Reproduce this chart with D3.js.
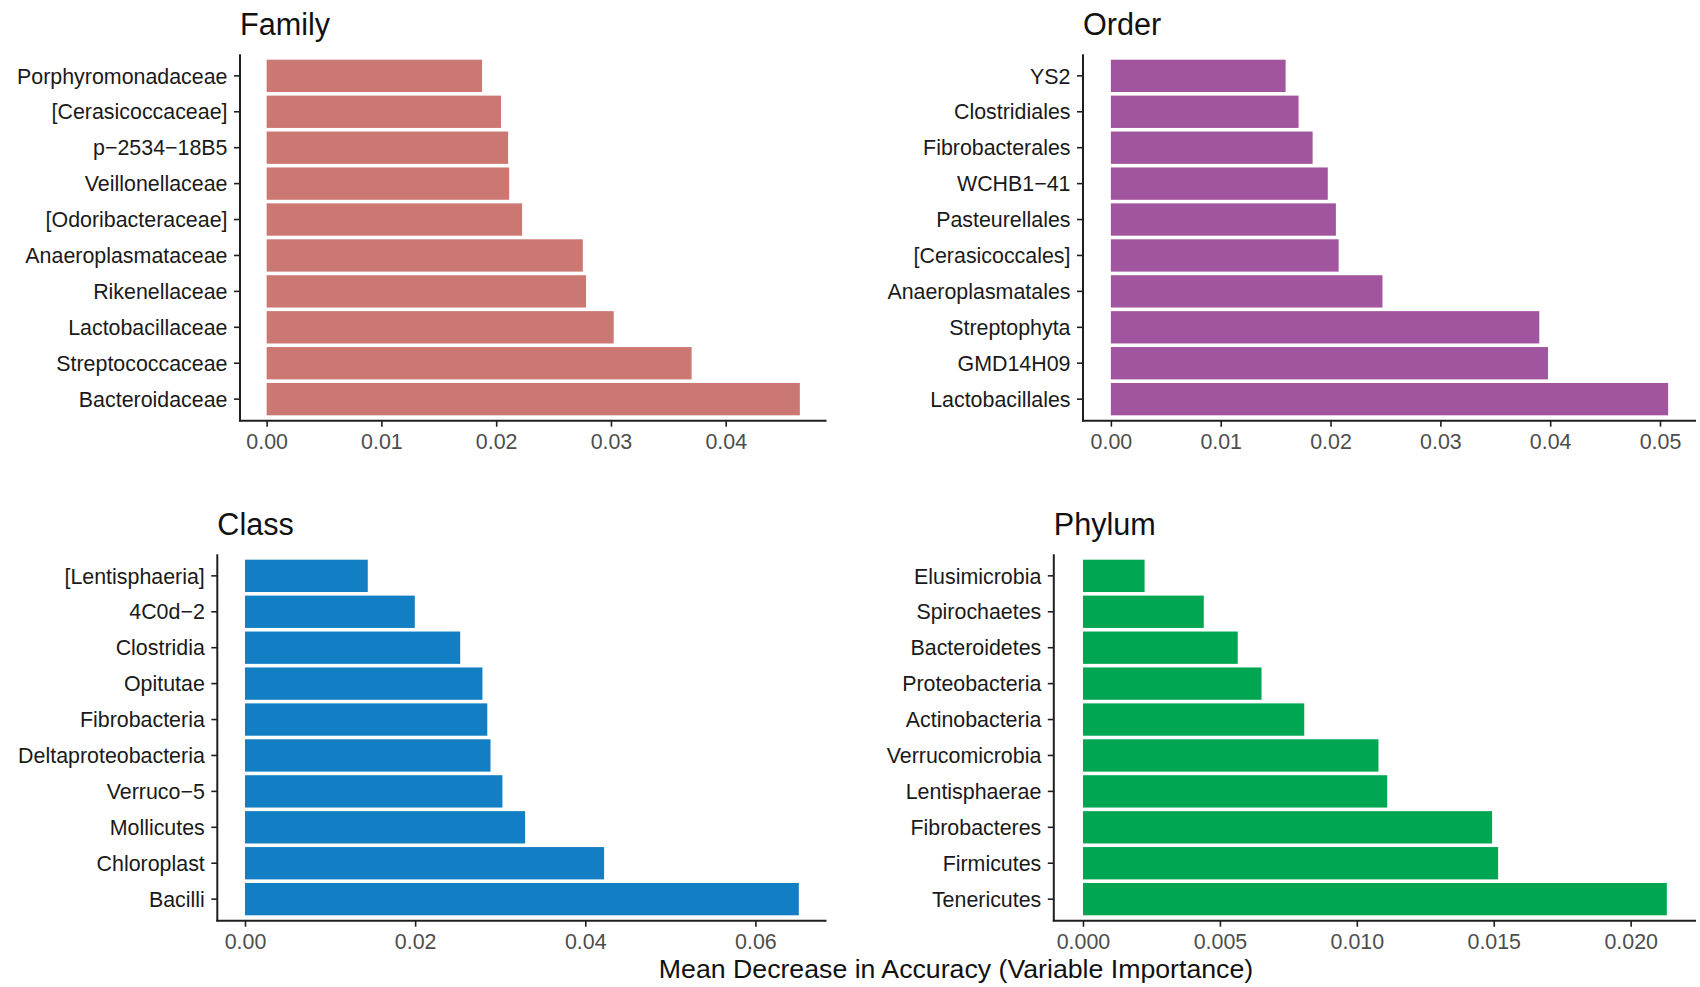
<!DOCTYPE html>
<html>
<head>
<meta charset="utf-8">
<script src="https://cdn.jsdelivr.net/npm/d3@7"></script>
<style>
  html, body { margin: 0; padding: 0; background: #ffffff; }
  svg { display: block; font-family: "Liberation Sans", Arial, Helvetica, sans-serif; }
</style>
</head>
<body>
<svg id="chart" width="1700" height="987"></svg>
<script>
// Random-forest variable importance by taxonomic rank (top 10 per rank)
const familyNames = ["Porphyromonadaceae", "[Cerasicoccaceae]", "p\u22122534\u221218B5", "Veillonellaceae", "[Odoribacteraceae]",
  "Anaeroplasmataceae", "Rikenellaceae", "Lactobacillaceae", "Streptococcaceae", "Bacteroidaceae"];
const familyValues = [0.01877, 0.02042, 0.02104, 0.02113, 0.02226, 0.02755, 0.02783, 0.03024, 0.03703, 0.04646];
const familyTicks = [0, 0.01, 0.02, 0.03, 0.04];

const orderNames = ["YS2", "Clostridiales", "Fibrobacterales", "WCHB1\u221241", "Pasteurellales",
  "[Cerasicoccales]", "Anaeroplasmatales", "Streptophyta", "GMD14H09", "Lactobacillales"];
const orderValues = [0.01591, 0.01709, 0.01837, 0.01975, 0.02049, 0.02074, 0.02473, 0.03901, 0.03980, 0.05074];
const orderTicks = [0, 0.01, 0.02, 0.03, 0.04, 0.05];

const classNames = ["[Lentisphaeria]", "4C0d\u22122", "Clostridia", "Opitutae", "Fibrobacteria",
  "Deltaproteobacteria", "Verruco\u22125", "Mollicutes", "Chloroplast", "Bacilli"];
const classValues = [0.01443, 0.01996, 0.02530, 0.02791, 0.02848, 0.02886, 0.03026, 0.03293, 0.04221, 0.06510];
const classTicks = [0, 0.02, 0.04, 0.06];

const phylumNames = ["Elusimicrobia", "Spirochaetes", "Bacteroidetes", "Proteobacteria", "Actinobacteria",
  "Verrucomicrobia", "Lentisphaerae", "Fibrobacteres", "Firmicutes", "Tenericutes"];
const phylumValues = [0.00225, 0.00441, 0.00565, 0.00652, 0.00808, 0.01079, 0.01111, 0.01494, 0.01516, 0.02132];
const phylumTicks = [0, 0.005, 0.010, 0.015, 0.020];

const xTitle = "Mean Decrease in Accuracy (Variable Importance)";

// Panel frames (plot area of each facet)
const panels = [
  { title: "Family", names: familyNames, values: familyValues, ticks: familyTicks, digits: 2, color: "#CB7873",
    left: 240, right: 826.5, top: 54.3, bottom: 420.7 },
  { title: "Order", names: orderNames, values: orderValues, ticks: orderTicks, digits: 2, color: "#A2559F",
    left: 1083, right: 1696, top: 54.3, bottom: 420.7 },
  { title: "Class", names: classNames, values: classValues, ticks: classTicks, digits: 2, color: "#127EC3",
    left: 217.3, right: 826.5, top: 554.3, bottom: 920.7 },
  { title: "Phylum", names: phylumNames, values: phylumValues, ticks: phylumTicks, digits: 3, color: "#00A651",
    left: 1053.8, right: 1696, top: 554.3, bottom: 920.7 }
];

const svg = d3.select("#chart");
const axisColor = "#1f1f1f";
const tickLen = 6;
const tickFont = 21.4;

panels.forEach(p => {
  const maxV = d3.max(p.values);
  const x = d3.scaleLinear()
    .domain([-0.05 * maxV, 1.05 * maxV])
    .range([p.left, p.right]);
  const y = d3.scaleBand()
    .domain(p.names)
    .range([p.top, p.bottom])
    .paddingInner(0.1)
    .paddingOuter(0.15);

  const g = svg.append("g");

  // bars
  g.selectAll("rect.bar")
    .data(p.names.map((n, i) => ({ name: n, value: p.values[i] })))
    .join("rect")
    .attr("class", "bar")
    .attr("x", x(0))
    .attr("y", d => y(d.name))
    .attr("width", d => x(d.value) - x(0))
    .attr("height", y.bandwidth())
    .attr("fill", p.color);

  // x axis
  const xAxis = d3.axisBottom(x)
    .tickValues(p.ticks)
    .tickFormat(d3.format("." + p.digits + "f"))
    .tickSize(tickLen)
    .tickPadding(7)
    .tickSizeOuter(0);
  const gx = g.append("g")
    .attr("transform", `translate(0,${p.bottom})`)
    .call(xAxis);
  gx.select(".domain").remove();
  gx.selectAll(".tick line").attr("stroke", axisColor).attr("stroke-width", 1.6);
  gx.selectAll(".tick text")
    .attr("fill", "#4d4d4d")
    .attr("font-size", tickFont)
    .attr("font-family", "'Liberation Sans', Arial, sans-serif");

  // y axis
  const yAxis = d3.axisLeft(y)
    .tickSize(tickLen)
    .tickPadding(6.5)
    .tickSizeOuter(0);
  const gy = g.append("g")
    .attr("transform", `translate(${p.left},0)`)
    .call(yAxis);
  gy.select(".domain").remove();
  gy.selectAll(".tick line").attr("stroke", axisColor).attr("stroke-width", 1.6);
  gy.selectAll(".tick text")
    .attr("fill", "#1a1a1a")
    .attr("font-size", tickFont)
    .attr("dy", "0.36em")
    .attr("font-family", "'Liberation Sans', Arial, sans-serif");

  // axis lines
  g.append("line")
    .attr("x1", p.left).attr("x2", p.left)
    .attr("y1", p.top).attr("y2", p.bottom + 0.8)
    .attr("stroke", axisColor).attr("stroke-width", 2);
  g.append("line")
    .attr("x1", p.left - 1).attr("x2", p.right)
    .attr("y1", p.bottom).attr("y2", p.bottom)
    .attr("stroke", axisColor).attr("stroke-width", 2);

  // panel title
  g.append("text")
    .attr("x", p.left)
    .attr("y", p.top - 19)
    .attr("font-size", 30.6)
    .attr("fill", "#111")
    .text(p.title);
});

// shared x axis title
svg.append("text")
  .attr("x", 956)
  .attr("y", 977.5)
  .attr("text-anchor", "middle")
  .attr("font-size", 26.7)
  .attr("fill", "#111")
  .text(xTitle);
</script>
</body>
</html>
